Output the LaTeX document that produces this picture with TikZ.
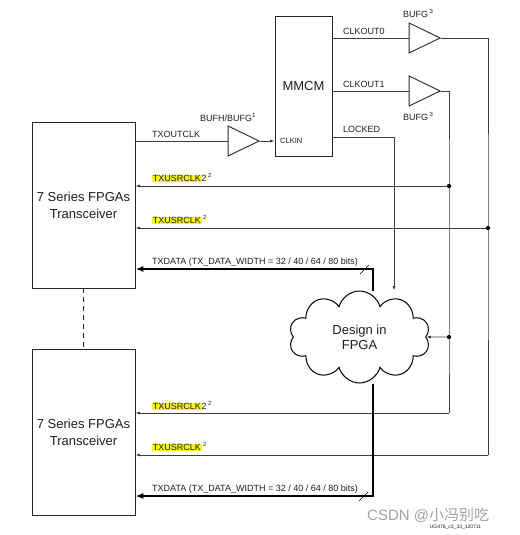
\documentclass[tikz,border=0pt]{standalone}
\usepackage{fontspec}
\setmainfont{Liberation Sans}
\newfontfamily\cjkfont{Noto Sans CJK SC}
\usepackage{tikz}
\usetikzlibrary{arrows.meta, calc, positioning, shapes.geometric, shapes.symbols}
\definecolor{wirec}{HTML}{3C3C3C}
\definecolor{boxc}{HTML}{262626}
\definecolor{inkc}{HTML}{1E1E1E}
\definecolor{hlyellow}{HTML}{F6F61E}
\definecolor{wmgray}{HTML}{A3A3A3}
\newcommand{\hlword}[1]{{\setlength{\fboxsep}{0.7pt}\colorbox{hlyellow}{#1}}}
\tikzset{
  xcvrbox/.style   = {draw=boxc, line width=0.9pt, minimum width=103pt,
                      minimum height=166pt, inner sep=0pt, align=center,
                      font=\fontsize{13}{17}\selectfont, text=inkc},
  mmcmbox/.style   = {draw=boxc, line width=0.9pt, minimum width=57pt,
                      minimum height=140pt, inner sep=0pt,
                      font=\fontsize{13}{15}\selectfont, text=inkc},
  buftri/.style    = {isosceles triangle, isosceles triangle stretches,
                      draw=boxc, line width=0.9pt, minimum width=30pt,
                      minimum height=31pt, inner sep=0pt},
  fpgacloud/.style = {cloud, cloud puffs=10, cloud ignores aspect,
                      draw=black, line width=1pt, minimum width=141pt,
                      minimum height=92pt, align=center,
                      font=\fontsize{13}{15}\selectfont, text=inkc},
  sigline/.style   = {draw=wirec, line width=0.75pt},
  sigarrow/.style  = {sigline, -{Latex[length=4.5pt, width=3pt]}},
  busline/.style   = {draw=black, line width=1.9pt, line join=miter,
                      -{Latex[length=8pt, width=6pt]}},
  slashmark/.style = {draw=black, line width=0.6pt},
  siglab/.style    = {font=\fontsize{9}{10}\selectfont, text=inkc,
                      inner sep=0pt, anchor=base west},
  smalllab/.style  = {siglab, font=\fontsize{7.5}{8}\selectfont},
  junc/.style      = {circle, fill=black, minimum size=4.2pt, inner sep=0pt},
  wmark/.style     = {font=\fontsize{15}{16}\selectfont, text=wmgray,
                      inner sep=0pt, anchor=west},
}

\begin{document}
\begin{tikzpicture}[x=1pt, y=-1pt]
    \useasboundingbox (0,0) rectangle (519,535);
    \node[xcvrbox] (tr1) at (83.5,205) {7 Series FPGAs\\Transceiver};
    \node[xcvrbox] (tr2) at (83.5,432.5) {7 Series FPGAs\\Transceiver};
    \node[mmcmbox] (mmcm) at (303.5,86) {MMCM};
    \node[buftri] (bufh) at (237.5,141) {};
    \node[buftri] (buf0) at (418.5,38) {};
    \node[buftri] (buf1) at (418.5,91) {};
    \node[fpgacloud] (fpga) at (359.5,337) {Design in\\FPGA};
    \draw[boxc, line width=0.9pt, dash pattern=on 5pt off 4pt]
      (tr1.south) -- (tr2.north);

    \coordinate (j0) at (488,228);
    \coordinate (j1) at (449,186);
    \coordinate (j2) at (449,337);
    \coordinate (e0) at (488,455);
    \coordinate (e1) at (449,413);
    \coordinate (lk) at (394,137);
    \coordinate (d1) at (373,269);
    \coordinate (d2) at (373,496);
    \coordinate (s1) at (364.5,269.5);
    \coordinate (s2) at (363.5,496.5);

    \draw[sigline] (tr1.east |- bufh.west) -- (bufh.west);
    \draw[sigarrow] (bufh.east) -- (mmcm.west |- bufh.east);
    \draw[sigline] (mmcm.east |- buf0.west) -- (buf0.west);
    \draw[sigline] (mmcm.east |- buf1.west) -- (buf1.west);
    \draw[sigline] (buf0.east) -| (j0) -- (e0);
    \draw[sigline] (buf1.east) -| (j1) -- (j2) -- (e1);
    \draw[sigarrow] (j1) -- (tr1.east |- j1);
    \draw[sigarrow] (j0) -- (tr1.east |- j0);
    \draw[sigarrow] (e1) -- (tr2.east |- e1);
    \draw[sigarrow] (e0) -- (tr2.east |- e0);
    \draw[sigarrow] (j2) -- (fpga);
    \draw[sigline] (mmcm.east |- lk) -- (lk);
    \draw[sigarrow] (lk) -- (lk |- fpga.north);
    \draw[busline] (d1 |- fpga.north) -- (d1) -- (tr1.east |- d1);
    \draw[busline] (d2 |- fpga.south) -- (d2) -- (tr2.east |- d2);
    \draw[slashmark] (s1) +(-4.5,4.5) -- +(4.5,-4.5);
    \draw[slashmark] (s2) +(-4.5,4.5) -- +(4.5,-4.5);
    \node[junc] (dj0) at (j0) {};
    \node[junc] (dj1) at (j1) {};
    \node[junc] (dj2) at (j2) {};

    \node[siglab] (ltxout) at (152,137.5) {TXOUTCLK};
    \node[siglab] (lbufh) at (200,121) {BUFH/BUFG\textsuperscript{1}};
    \node[smalllab] (lclkin) at (280,143) {CLKIN};
    \node[siglab] (lout0) at (343,34.5) {CLKOUT0};
    \node[siglab] (lout1) at (343,87.5) {CLKOUT1};
    \node[siglab] (llock) at (343,132.5) {LOCKED};
    \node[siglab] (lbuf0) at (403,17.5) {BUFG\,\textsuperscript{3}};
    \node[siglab] (lbuf1) at (403,120.5) {BUFG\,\textsuperscript{3}};
    \node[siglab] (lusr2a) at (152,181.5) {\hlword{TXUSRCLK}2\,\textsuperscript{2}};
    \node[siglab] (lusra) at (152,223.5) {\hlword{TXUSRCLK}\,\textsuperscript{2}};
    \node[siglab] (ldata1) at (152,264.5)
      {TXDATA (TX\_DATA\_WIDTH = 32 / 40 / 64 / 80 bits)};
    \node[siglab] (lusr2b) at (152,409.5) {\hlword{TXUSRCLK}2\,\textsuperscript{2}};
    \node[siglab] (lusrb) at (152,450.5) {\hlword{TXUSRCLK}\,\textsuperscript{2}};
    \node[siglab] (ldata2) at (152,491.5)
      {TXDATA (TX\_DATA\_WIDTH = 32 / 40 / 64 / 80 bits)};

    \node[font=\fontsize{5}{5}\selectfont, text=inkc, inner sep=0pt]
      (figid) at (455.5,527) {UG476\_c3\_33\_120711};
    \node[wmark] (wm) at (367,515) {CSDN @{\cjkfont 小冯别吃}};
  \end{tikzpicture}
\end{document}
